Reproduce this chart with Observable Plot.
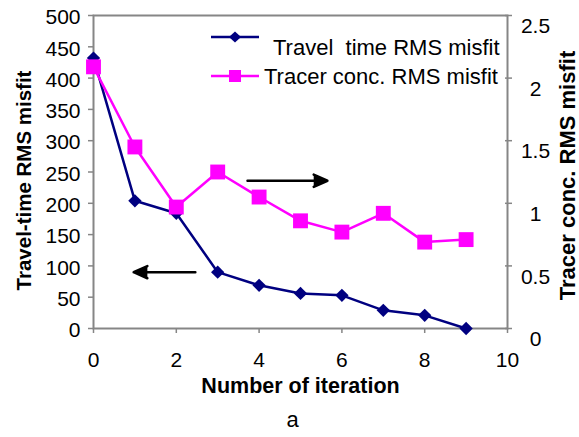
<!DOCTYPE html>
<html>
<head>
<meta charset="utf-8">
<script src="https://cdn.jsdelivr.net/npm/d3@7"></script>
<script src="https://cdn.jsdelivr.net/npm/@observablehq/plot@0.6"></script>
<style>
  body { margin: 0; background: #ffffff; }
  #chart { position: relative; width: 579px; height: 437px; }
  #chart svg.legend { position: absolute; left: 0; top: 0; pointer-events: none; }
</style>
</head>
<body>
<div id="chart"></div>
<script>
// Inversion convergence: misfit per iteration
const iterations = [0, 1, 2, 3, 4, 5, 6, 7, 8, 9];
const travelTimeMisfit = [432, 204, 184, 90, 69, 56, 53, 29, 21, 0];
const tracerMisfit = [2.09, 1.45, 0.97, 1.25, 1.05, 0.86, 0.77, 0.92, 0.69, 0.71];

const xTicks = [0, 2, 4, 6, 8, 10];
const leftTicks = [0, 50, 100, 150, 200, 250, 300, 350, 400, 450, 500];
const rightTicks = [0, 0.5, 1, 1.5, 2, 2.5];

const seriesNames = ["Travel  time RMS misfit", "Tracer conc. RMS misfit"];
const xLabel = "Number of iteration";
const yLabelLeft = "Travel-time RMS misfit";
const yLabelRight = "Tracer conc. RMS misfit";
const caption = "a";

// Pointer arrows telling which axis each curve belongs to (x in iterations, y in left-axis units)
const pointerArrows = [
  {x1: 2.46, x2: 0.97, y: 90},
  {x1: 3.72, x2: 5.65, y: 236}
];

// The tracer axis (0–2.5) shares the left scale (0–500)
const tracerScale = 500 / 2.5;

const NAVY = "#000080";
const MAGENTA = "#ff00ff";
const GRAY = "#868686";
const FONT = "'Liberation Sans', Arial, sans-serif";

const travel = iterations.map((x, i) => ({x, y: travelTimeMisfit[i]}));
const tracer = iterations.map((x, i) => ({x, y: tracerMisfit[i] * tracerScale}));
const rightTickPos = rightTicks.map(v => v * tracerScale);

const centred = {textAnchor: "middle", lineAnchor: "middle"};

const chart = Plot.plot({
  width: 579,
  height: 437,
  marginLeft: 93,
  marginRight: 72,
  marginTop: 15,
  marginBottom: 109,
  style: {fontFamily: FONT, fontSize: "21px", color: "black", background: "transparent"},
  x: {domain: [0, 10]},
  y: {domain: [0, 500]},
  marks: [
    Plot.frame({stroke: GRAY, strokeWidth: 2}),
    // bottom axis
    Plot.axisX({ticks: xTicks, tickSize: 5, tickPadding: 19, stroke: GRAY, strokeWidth: 1.5, label: null}),
    // left axis: ticks, then labels
    Plot.axisY({ticks: leftTicks, tickSize: 6, dx: 1, fill: "none", stroke: GRAY, strokeWidth: 1.5, label: null}),
    Plot.axisY({ticks: leftTicks, tickSize: 0, tickPadding: 13, stroke: "none", dy: 2, label: null}),
    // right axis: crossing ticks, then centred labels
    Plot.axisY({anchor: "right", ticks: rightTickPos, tickSize: 7, dx: -3, fill: "none", stroke: GRAY, strokeWidth: 1.5, label: null}),
    Plot.axisY({anchor: "right", ticks: rightTickPos, tickSize: 0, tickPadding: 28, textAnchor: "middle",
      stroke: "none", dy: 11, label: null, tickFormat: d => String(d / tracerScale)}),
    // series
    Plot.line(travel, {x: "x", y: "y", stroke: NAVY, strokeWidth: 2.5}),
    Plot.dot(travel, {x: "x", y: "y", symbol: "diamond2", r: 6, fill: NAVY}),
    Plot.line(tracer, {x: "x", y: "y", stroke: MAGENTA, strokeWidth: 2.5}),
    Plot.dot(tracer, {x: "x", y: "y", symbol: "square", r: 8.4, fill: MAGENTA}),
    // axis pointers
    Plot.arrow(pointerArrows, {x1: "x1", x2: "x2", y1: "y", y2: "y", stroke: "black", fill: "black",
      strokeWidth: 2.5, headLength: 9, headAngle: 48}),
    // titles
    Plot.text([xLabel], {...centred, text: d => d, frameAnchor: "bottom", dy: 58, fontWeight: "bold", fontSize: 21.5}),
    Plot.text([yLabelLeft], {...centred, text: d => d, frameAnchor: "left", rotate: -90, dx: -69, dy: 8.5, fontWeight: "bold", fontSize: 20.5}),
    Plot.text([yLabelRight], {...centred, text: d => d, frameAnchor: "right", rotate: -90, dx: 60.5, dy: 3.5, fontWeight: "bold", fontSize: 22}),
    Plot.text([caption], {...centred, text: d => d, frameAnchor: "bottom", dy: 91, dx: -8, fontSize: 22})
  ]
});

const host = document.getElementById("chart");
host.appendChild(chart);

// Legend box in the upper right of the plot area
const legend = d3.select(host).append("svg")
  .attr("class", "legend")
  .attr("width", 579)
  .attr("height", 437);

const entries = [
  {name: seriesNames[0], color: NAVY, lineY: 37, textX: 273, baseline: 54.5, marker: "diamond"},
  {name: seriesNames[1], color: MAGENTA, lineY: 76, textX: 264, baseline: 83.5, marker: "square"}
];

for (const e of entries) {
  const g = legend.append("g");
  g.append("line")
    .attr("x1", 211).attr("x2", 259)
    .attr("y1", e.lineY).attr("y2", e.lineY)
    .attr("stroke", e.color).attr("stroke-width", 2.5);
  if (e.marker === "diamond") {
    g.append("path")
      .attr("d", `M235,${e.lineY - 5.5}L241,${e.lineY}L235,${e.lineY + 5.5}L229,${e.lineY}Z`)
      .attr("fill", e.color);
  } else {
    g.append("rect")
      .attr("x", 229).attr("y", e.lineY - 6)
      .attr("width", 12).attr("height", 12)
      .attr("fill", e.color);
  }
  g.append("text")
    .attr("x", e.textX).attr("y", e.baseline)
    .attr("font-family", FONT).attr("font-size", 22)
    .style("white-space", "pre")
    .text(e.name);
}
</script>
</body>
</html>
